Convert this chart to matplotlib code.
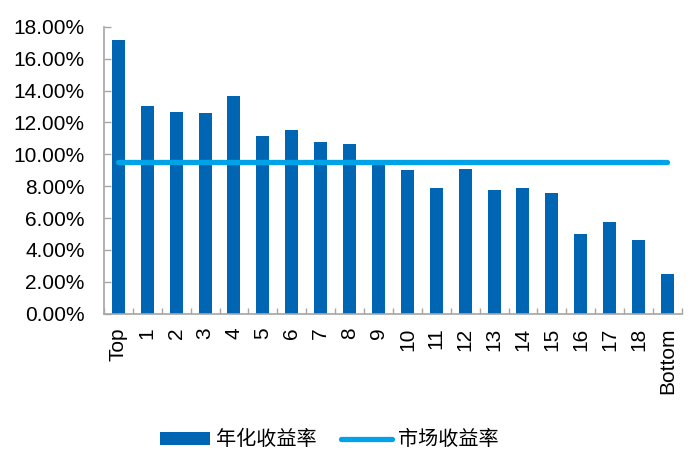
import matplotlib
matplotlib.use("Agg")
import matplotlib.pyplot as plt
import numpy as np
from matplotlib.lines import Line2D
from matplotlib.patches import Patch
from matplotlib.ticker import FuncFormatter, MultipleLocator

plt.rcParams["font.family"] = ["Liberation Sans", "Noto Sans CJK SC"]

categories = ["Top"] + [str(i) for i in range(1, 19)] + ["Bottom"]
annual_return = [17.15, 13.03, 12.64, 12.58, 13.68, 11.14, 11.55, 10.80, 10.66, 9.45,
                 9.01, 7.86, 9.07, 7.74, 7.90, 7.57, 4.98, 5.76, 4.65, 2.52]
market_return = 9.49

BAR_COLOR = "#0066b3"
LINE_COLOR = "#00a2e8"
AXIS_COLOR = "#a6a6a6"

fig = plt.figure(figsize=(6.93, 4.62), dpi=100)
ax = fig.add_axes([0.150, 0.321, 0.834, 0.621])

x = np.arange(len(categories))
ax.bar(x, annual_return, width=0.45, color=BAR_COLOR, zorder=2)
ax.plot([x[0], x[-1]], [market_return, market_return], color=LINE_COLOR,
        linewidth=3.8, solid_capstyle="round", zorder=3)

ax.set_xlim(-0.5, len(categories) - 0.5)
ax.set_ylim(0, 18)
ax.yaxis.set_major_locator(MultipleLocator(2))
ax.yaxis.set_major_formatter(FuncFormatter(lambda v, p: "%.2f%%" % v))

ax.set_xticks(x)
ax.set_xticklabels(categories, rotation=90)
ax.set_xticks(np.arange(-0.5, len(categories)), minor=True)
ax.tick_params(axis="x", which="major", length=0, pad=10, labelsize=15)
ax.tick_params(axis="x", which="minor", direction="in", length=4,
               color=AXIS_COLOR, width=1)
ax.tick_params(axis="y", which="major", direction="in", length=5,
               color=AXIS_COLOR, width=1, labelsize=15, pad=14)

for side in ["top", "right"]:
    ax.spines[side].set_visible(False)
for side in ["left", "bottom"]:
    ax.spines[side].set_color(AXIS_COLOR)
    ax.spines[side].set_linewidth(1.2)

handles = [
    Patch(facecolor=BAR_COLOR, edgecolor="none"),
    Line2D([0], [0], color=LINE_COLOR, linewidth=3.8, solid_capstyle="round"),
]
fig.legend(handles, ["年化收益率", "市场收益率"], loc="center",
           bbox_to_anchor=(0.475, 0.048), ncol=2, frameon=False, fontsize=14.5,
           handlelength=2.5, handleheight=0.6, handletextpad=0.3,
           columnspacing=1.2)

fig.savefig("out.png", dpi=100)
